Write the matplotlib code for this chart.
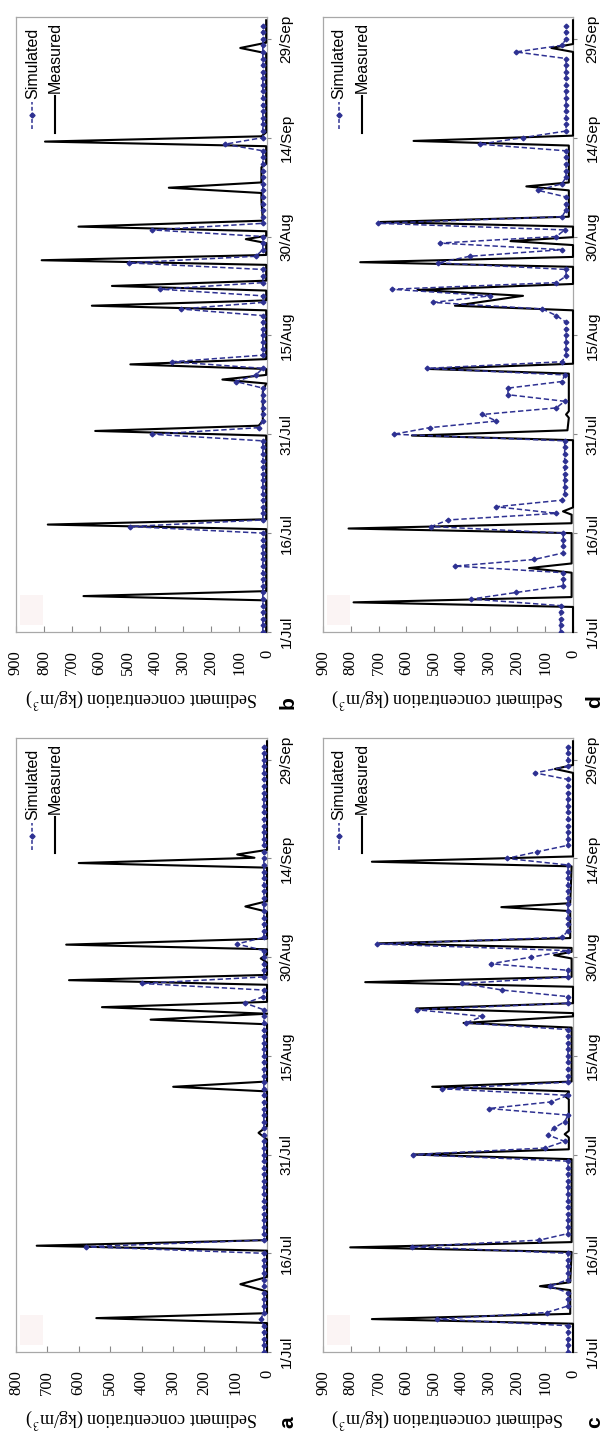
import matplotlib
matplotlib.use("Agg")
import matplotlib.pyplot as plt
from matplotlib.patches import Rectangle

plt.rcParams['mathtext.fontset'] = 'stix'

# ---------------- data ----------------
date_ticks = [0, 15, 30, 45, 60, 75, 90]
date_labels = ['1/Jul', '16/Jul', '31/Jul', '15/Aug', '30/Aug', '14/Sep', '29/Sep']
sim_days = list(range(93))  # daily simulated values, 1/Jul = day 0

# panel a
meas_a_t = [0, 4.4, 5.15, 5.9, 9.2, 10.3, 11.4, 15.4, 16.15, 17.0, 32.3, 33.3, 34.3,
            39.6, 40.3, 41.1, 49.8, 50.5, 51.4, 52.4, 53.2, 55.8, 56.5, 57.3,
            59.2, 59.8, 60.4, 61.2, 61.9, 62.8, 66.9, 67.7, 68.5,
            73.6, 74.3, 75.1, 75.6, 76.3, 92.8]
meas_a_v = [0, 0, 544, 0, 0, 85, 0, 0, 734, 0, 0, 27, 0,
            0, 299, 0, 0, 371, 0, 526, 0, 0, 631, 0,
            0, 20, 0, 0, 640, 0, 0, 69, 0,
            0, 600, 40, 95, 0, 0]
sim_a = [10, 10, 10, 10, 10, 20, 10, 10, 10, 10,
         10, 10, 10, 10, 10, 10, 578, 10, 10, 10,
         10, 10, 10, 10, 10, 10, 10, 10, 10, 10,
         10, 10, 10, 10, 10, 10, 10, 10, 10, 10,
         10, 10, 10, 10, 10, 10, 10, 10, 10, 10,
         10, 10, 10, 69, 12, 10, 400, 10, 10, 10,
         10, 10, 96, 10, 10, 10, 10, 10, 10, 10,
         10, 10, 10, 10, 10, 10, 10, 10, 10, 10,
         10, 10, 10, 10, 10, 10, 10, 10, 10, 10,
         10, 10, 10]

# panel b
meas_b_t = [0, 4.8, 5.45, 6.2, 15.6, 16.3, 17.1, 29.8, 30.5, 31.3, 32.0, 36.5,
            37.7, 38.3, 39.0, 39.9, 40.6, 41.4, 48.8, 49.5, 50.3, 51.8, 52.5, 53.3,
            55.7, 56.4, 57.2, 59.0, 59.6, 60.1, 60.8, 61.5, 62.4, 65.5, 66.6, 67.4,
            68.2, 70.5, 71.0, 73.7, 74.4, 75.2, 75.8, 87.8, 88.6, 89.4, 92.8]
meas_b_v = [3, 3, 658, 3, 3, 786, 3, 3, 616, 30, 15, 15,
            3, 160, 3, 3, 490, 3, 3, 628, 3, 3, 556, 3,
            3, 808, 3, 3, 76, 3, 3, 676, 15, 20, 20, 352,
            20, 20, 3, 3, 796, 20, 3, 3, 96, 3, 3]
sim_b = [15, 15, 15, 15, 15, 15, 15, 15, 15, 15,
         15, 15, 15, 15, 15, 15, 490, 15, 15, 15,
         15, 15, 15, 15, 15, 15, 15, 15, 15, 15,
         412, 30, 15, 15, 15, 15, 15, 15, 112, 40,
         15, 340, 15, 15, 15, 15, 15, 15, 15, 310,
         15, 15, 382, 15, 15, 15, 496, 40, 15, 15,
         15, 412, 15, 15, 15, 15, 15, 15, 15, 15,
         15, 15, 15, 15, 151, 15, 15, 15, 15, 15,
         15, 15, 15, 15, 15, 15, 15, 15, 15, 15,
         15, 15, 15]

# panel c
meas_c_t = [0, 4.3, 5.0, 5.8, 9.4, 10.0, 10.6, 15.2, 15.9, 16.7, 29.3, 30.0, 30.8,
            32.6, 33.1, 33.6, 38.4, 38.9, 39.4, 39.6, 40.3, 41.1, 49.3, 50.0, 51.0,
            51.5, 52.2, 53.0, 55.5, 56.2, 57.0, 59.8, 60.3, 60.8, 61.4, 62.1, 62.9,
            67.0, 67.6, 68.2, 73.8, 74.5, 75.3, 88.0, 88.6, 89.2, 92.8]
meas_c_v = [0, 0, 724, 10, 10, 119, 10, 5, 802, 5, 5, 578, 15,
            15, 30, 15, 15, 30, 15, 15, 507, 5, 5, 394, 0,
            0, 564, 0, 0, 748, 5, 5, 68, 5, 5, 697, 10,
            10, 258, 10, 5, 724, 0, 0, 65, 0, 0]
sim_c = [18, 18, 18, 18, 18, 490, 95, 18, 18, 18,
         83, 18, 18, 18, 18, 18, 580, 121, 18, 18,
         18, 18, 18, 18, 18, 18, 18, 18, 18, 18,
         576, 100, 30, 91, 70, 30, 18, 303, 80, 18,
         470, 18, 18, 18, 18, 18, 18, 18, 18, 18,
         386, 326, 560, 18, 18, 255, 398, 18, 18, 297,
         150, 18, 707, 40, 18, 18, 18, 18, 18, 18,
         18, 18, 18, 18, 18, 238, 130, 18, 18, 18,
         18, 18, 18, 18, 18, 18, 18, 18, 137, 18,
         18, 18, 18]

# panel d
meas_d_t = [0, 3.8, 4.5, 5.3, 9.0, 9.7, 10.4, 15.0, 15.7, 16.5, 17.8, 18.3, 18.9,
            29.1, 29.8, 30.6, 32.5, 33.0, 33.5, 39.2, 39.9, 40.7, 48.8, 49.5, 51.0,
            51.9, 52.8, 55.4, 56.1, 56.9, 58.7, 59.3, 59.9, 61.5, 62.2, 63.0, 67.0,
            67.6, 68.2, 73.8, 74.5, 75.3, 88.0, 88.6, 89.2, 92.8]
meas_d_v = [0, 0, 790, 5, 5, 158, 5, 5, 808, 5, 5, 36, 0,
            0, 580, 20, 15, 25, 15, 15, 517, 0, 0, 425, 180,
            560, 0, 0, 766, 0, 0, 225, 0, 0, 694, 15, 15,
            168, 15, 15, 574, 0, 0, 78, 0, 0]
sim_d = [45, 45, 45, 45, 45, 366, 204, 35, 35, 35,
         426, 140, 35, 35, 35, 35, 510, 450, 60, 276,
         40, 30, 30, 30, 30, 30, 30, 30, 30, 30,
         646, 516, 276, 326, 60, 30, 234, 234, 40, 30,
         526, 40, 25, 25, 25, 25, 25, 25, 60, 110,
         503, 300, 652, 60, 25, 25, 486, 372, 40, 480,
         60, 30, 702, 40, 25, 25, 25, 126, 40, 25,
         25, 25, 25, 25, 336, 180, 25, 25, 25, 25,
         25, 25, 25, 25, 25, 25, 25, 25, 206, 40,
         25, 25, 25]

value_label = 'Sediment concentration (kg/m$^{3}$)'
legend_labels = ['Simulated', 'Measured']

# ---------------- styling ----------------
W, H = 610, 1433
SIM_COLOR = '#2e3192'
FRAME = '#a8a8a8'
SERIF = ['Liberation Serif', 'DejaVu Serif']
NARROW = ['Liberation Sans Narrow', 'Liberation Sans', 'DejaVu Sans']
BOLD = ['Liberation Sans', 'DejaVu Sans']

fig = plt.figure(figsize=(W / 100, H / 100), dpi=100)


def px_rect(x0, y0, x1, y1):
    return [x0 / W, 1 - y1 / H, (x1 - x0) / W, (y1 - y0) / H]


def panel(rect, mt, mv, sim, vmax, letter):
    ax = fig.add_axes(rect)
    ax.plot(mv, mt, color='black', lw=1.5, zorder=3, clip_on=False)
    ax.plot(sim, sim_days, color=SIM_COLOR, lw=1.1, ls=(0, (3.5, 1.8)),
            marker='D', ms=2.4, mec=SIM_COLOR, mfc=SIM_COLOR, zorder=4)
    ax.set_xlim(vmax, 0)
    ax.set_ylim(0, 93.3)
    for s in ax.spines.values():
        s.set_color(FRAME)
        s.set_linewidth(0.9)
    # value axis (bottom)
    vt = list(range(0, vmax + 1, 100))
    ax.set_xticks(vt)
    ax.set_xticklabels([str(v) for v in vt], rotation=90, family=SERIF, fontsize=12)
    ax.tick_params(axis='x', direction='in', length=4, pad=13, color='#888888')
    # date axis (right)
    ax.yaxis.tick_right()
    ax.set_yticks(date_ticks)
    ax.set_yticklabels(date_labels, rotation=90, va='center', family=NARROW, fontsize=11)
    ax.tick_params(axis='y', direction='out', length=3, pad=6, color='#888888')
    # value label (upside-down) and panel letter
    ax.text(0.5, -0.106, value_label, rotation=180, transform=ax.transAxes,
            ha='center', va='center', family=SERIF, fontsize=13)
    ax.text(1.085, -0.114, letter, rotation=90, transform=ax.transAxes,
            ha='center', va='center', family=BOLD, fontsize=15, weight='bold')
    # faint box
    ax.add_patch(Rectangle((0.016, 0.012), 0.09, 0.048, transform=ax.transAxes,
                           facecolor='#fbf4f4', edgecolor='none', zorder=1))
    # legend (rotated, drawn by hand)
    ax.plot([0.065, 0.065], [0.818, 0.862], transform=ax.transAxes, color=SIM_COLOR,
            lw=1.1, ls=(0, (2.5, 1.5)), zorder=5)
    ax.plot([0.065], [0.840], transform=ax.transAxes, marker='D', ms=2.6,
            color=SIM_COLOR, zorder=5)
    ax.text(0.065, 0.866, legend_labels[0], rotation=90, transform=ax.transAxes,
            ha='center', va='bottom', family=NARROW, fontsize=11.5)
    ax.plot([0.155, 0.155], [0.812, 0.872], transform=ax.transAxes, color='black',
            lw=1.5, zorder=5)
    ax.text(0.155, 0.876, legend_labels[1], rotation=90, transform=ax.transAxes,
            ha='center', va='bottom', family=NARROW, fontsize=11.5)
    return ax


panel(px_rect(16, 17, 267, 632), meas_b_t, meas_b_v, sim_b, 900, 'b')
panel(px_rect(323, 17, 573, 632), meas_d_t, meas_d_v, sim_d, 900, 'd')
panel(px_rect(16, 738, 267, 1352), meas_a_t, meas_a_v, sim_a, 800, 'a')
panel(px_rect(323, 738, 573, 1352), meas_c_t, meas_c_v, sim_c, 900, 'c')

fig.savefig('out.png', dpi=100)
